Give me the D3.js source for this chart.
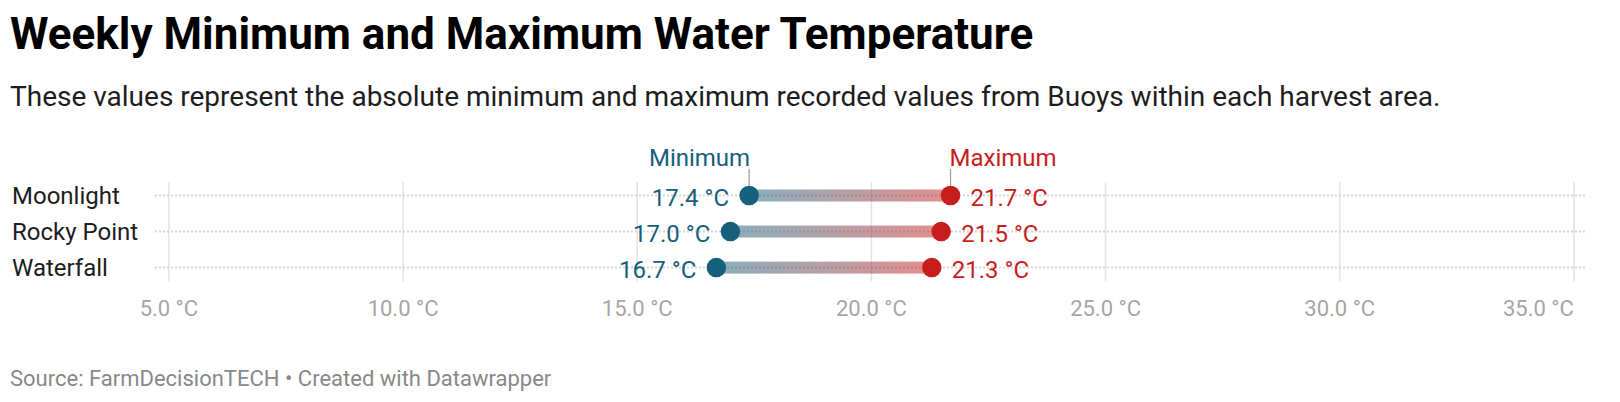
<!DOCTYPE html>
<html>
<head>
<meta charset="utf-8">
<script src="https://cdn.jsdelivr.net/npm/d3@7"></script>
<style>
  html, body { margin: 0; padding: 0; background: #fff; }
  svg { display: block; font-family: Roboto, "Noto Sans", sans-serif; }
</style>
</head>
<body>
<svg id="chart" width="1620" height="402"></svg>
<script>
const categories = ["Moonlight", "Rocky Point", "Waterfall"];
const minValues = [17.4, 17.0, 16.7];
const maxValues = [21.7, 21.5, 21.3];
const tickValues = [5, 10, 15, 20, 25, 30, 35];
const titleText = "Weekly Minimum and Maximum Water Temperature";
const subtitleText = "These values represent the absolute minimum and maximum recorded values from Buoys within each harvest area.";
const sourceText = "Source: FarmDecisionTECH \u2022 Created with Datawrapper";

const minColor = "#15607a";
const maxColor = "#c71e1d";

const svg = d3.select("#chart");

svg.append("text").attr("x", 10).attr("y", 48.5)
  .attr("font-size", 44).attr("font-weight", 700).attr("fill", "#000")
  .text(titleText);
svg.append("text").attr("x", 10).attr("y", 106)
  .attr("font-size", 28).attr("fill", "#1d1d1d")
  .text(subtitleText);
svg.append("text").attr("x", 10).attr("y", 386)
  .attr("font-size", 22).attr("fill", "#888")
  .text(sourceText);

const x = d3.scaleLinear().domain([5, 35]).range([168.4, 1573.4]);
const y = d3.scalePoint().domain(categories).range([195.5, 267.6]);

const gridTop = 182, gridBottom = 281.5;

// grid + axis
const axis = d3.axisBottom(x).tickValues(tickValues)
  .tickSize(-(gridBottom - gridTop))
  .tickFormat(d => d3.format(".1f")(d) + " \u00b0C");
const gAxis = svg.append("g").attr("transform", `translate(0,${gridBottom})`).call(axis);
gAxis.select(".domain").remove();
gAxis.selectAll(".tick line").attr("stroke", "#e3e3e3").attr("stroke-width", 1.5);
gAxis.selectAll(".tick text").attr("y", 34).attr("dy", null)
  .attr("font-size", 22).attr("fill", "#a6a6a6")
  .attr("font-family", "Roboto, sans-serif")
  .attr("text-anchor", (d, i, n) => i === n.length - 1 ? "end" : "middle");

// row dotted lines
svg.append("g").selectAll("line").data(categories).join("line")
  .attr("x1", 155).attr("x2", 1586)
  .attr("y1", d => y(d)).attr("y2", d => y(d))
  .attr("stroke", "#d6d6d6").attr("stroke-width", 2)
  .attr("stroke-dasharray", "2,2");

// row labels
svg.append("g").selectAll("text").data(categories).join("text")
  .attr("x", 12).attr("y", d => y(d)).attr("dy", "0.35em")
  .attr("font-size", 24).attr("fill", "#1d1d1d")
  .text(d => d);

// gradient
const defs = svg.append("defs");
const grad = defs.append("linearGradient").attr("id", "rangeGrad")
  .attr("x1", "0%").attr("x2", "100%").attr("y1", "0%").attr("y2", "0%");
grad.append("stop").attr("offset", "0%").attr("stop-color", minColor).attr("stop-opacity", 0.5);
grad.append("stop").attr("offset", "100%").attr("stop-color", maxColor).attr("stop-opacity", 0.5);

const rows = categories.map((c, i) => ({ cat: c, min: minValues[i], max: maxValues[i] }));

// bars
svg.append("g").selectAll("rect").data(rows).join("rect")
  .attr("x", d => x(d.min)).attr("width", d => x(d.max) - x(d.min))
  .attr("y", d => y(d.cat) - 6).attr("height", 12)
  .attr("fill", "url(#rangeGrad)");

// dots
svg.append("g").selectAll("circle.min").data(rows).join("circle")
  .attr("class", "min")
  .attr("cx", d => x(d.min)).attr("cy", d => y(d.cat)).attr("r", 9.75)
  .attr("fill", minColor);
svg.append("g").selectAll("circle.max").data(rows).join("circle")
  .attr("class", "max")
  .attr("cx", d => x(d.max)).attr("cy", d => y(d.cat)).attr("r", 9.75)
  .attr("fill", maxColor);

// value labels
const fmt = d => d3.format(".1f")(d) + " \u00b0C";
svg.append("g").selectAll("text").data(rows).join("text")
  .attr("x", d => x(d.min) - 20).attr("y", d => y(d.cat)).attr("dy", "0.42em")
  .attr("text-anchor", "end").attr("font-size", 24).attr("fill", minColor)
  .text(d => fmt(d.min));
svg.append("g").selectAll("text").data(rows).join("text")
  .attr("x", d => x(d.max) + 20).attr("y", d => y(d.cat)).attr("dy", "0.42em")
  .attr("text-anchor", "start").attr("font-size", 24).attr("fill", maxColor)
  .text(d => fmt(d.max));

// series labels with leader lines (first row)
const first = rows[0];
svg.append("line").attr("x1", x(first.min)).attr("x2", x(first.min))
  .attr("y1", 169).attr("y2", y(first.cat) - 9.75)
  .attr("stroke", "#9a9a9a").attr("stroke-width", 1.2);
svg.append("line").attr("x1", x(first.max)).attr("x2", x(first.max))
  .attr("y1", 169).attr("y2", y(first.cat) - 9.75)
  .attr("stroke", "#9a9a9a").attr("stroke-width", 1.2);
svg.append("text").attr("x", x(first.min) + 1).attr("y", 166)
  .attr("text-anchor", "end").attr("font-size", 24).attr("fill", minColor)
  .text("Minimum");
svg.append("text").attr("x", x(first.max) - 1).attr("y", 166)
  .attr("text-anchor", "start").attr("font-size", 24).attr("fill", maxColor)
  .text("Maximum");
</script>
</body>
</html>
